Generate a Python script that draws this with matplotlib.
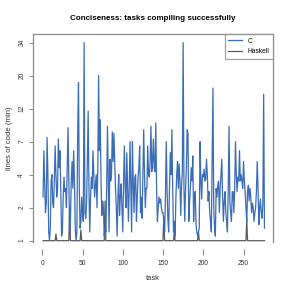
import numpy as np
import matplotlib
matplotlib.use("Agg")
import matplotlib.pyplot as plt

# ---- data ----
tick_values = [1, 2, 4, 7, 12, 20, 34]
tick_labels = ["1", "2", "4", "7", "12", "20", "34"]
x_ticks = [0, 50, 100, 150, 200, 250]

c_values = [
    2.5, 6, 3.5, 1.8, 2.2, 7.5, 4, 1.2, 1.0, 1.3,
    3.5, 4, 2.2, 2, 3.5, 6.5, 4, 2.5, 3, 7.3,
    4.5, 6, 3, 1.1, 1.2, 2.5, 3.8, 2.8, 3.0, 2.0,
    4.5, 8.8, 3.5, 1.2, 1.5, 3.5, 5, 3, 6, 3.5,
    1.3, 1.0, 1.2, 8, 18, 3, 1.3, 1.5, 2.5, 1.8,
    1.5, 34, 1.8, 1.6, 2.2, 5, 11.5, 3, 1.2, 2.5,
    3.8, 3, 6, 4, 2.5, 3.2, 4, 2, 4.5, 20,
    6, 10, 3.5, 1.7, 2.3, 2.0, 1.1, 1.3, 1.2, 3,
    9, 3.5, 1.2, 5.2, 3.5, 4, 8.2, 5, 8, 5,
    3, 2, 1.1, 2.5, 4, 1.7, 2.5, 3.3, 2, 1.2,
    3.5, 6.5, 3, 2, 5.8, 3, 1.5, 3, 7, 3,
    1.2, 7, 3.5, 1.8, 3.8, 4, 1.5, 2.5, 3.8, 4.5,
    6.5, 1.8, 2.5, 1.6, 4, 8.5, 4, 2, 3, 3,
    6.5, 4, 3.8, 5, 9, 4.2, 5, 7.3, 4.5, 4.2,
    9.5, 3, 1.5, 2, 2.5, 2.2, 2.4, 2, 1.8, 1.8,
    1.5, 1.2, 2.5, 7, 3, 1.6, 1.2, 3, 5.8, 4,
    8.5, 3, 1.2, 1.5, 1.1, 2.5, 4, 5, 3, 4.8,
    3.5, 1.7, 3.2, 4.2, 34, 3, 1.5, 3, 4.5, 8.5,
    8, 1.5, 2.3, 3, 4.5, 3.5, 5.5, 1.5, 2.5, 2.8,
    1.4, 1.2, 1.1, 1.2, 1.3, 7, 3.5, 2.4, 4, 3.8,
    4.4, 3.5, 3.6, 5.2, 4, 2.3, 2.8, 1.8, 1.5, 1.2,
    5, 16.5, 2, 1.3, 1.1, 3, 2.5, 3.2, 3.5, 1.8,
    3, 4, 5.2, 2.5, 1.5, 2.3, 2.8, 1.8, 1.5, 1.2,
    3, 9, 2.3, 1.8, 1.5, 2.8, 2.8, 1.8, 3, 7,
    4, 2.8, 3.8, 3.5, 6, 3.5, 4, 3.5, 3, 5,
    3.5, 2.8, 2, 1.5, 2.8, 3.2, 2.3, 3, 2.5, 1.8,
    2.2, 2, 1.5, 1.8, 2, 2.8, 5, 3, 1.4, 2,
    2.4, 1.8, 1.6, 2.2, 15, 1.3,
]
tasks = list(range(1, len(c_values) + 1))

haskell_values = [1.0] * len(c_values)
haskell_spikes = {17: 1.15, 34: 2.0, 48: 1.25, 78: 2.3, 151: 1.65, 164: 1.2, 194: 1.2, 254: 1.55}
for t, v in haskell_spikes.items():
    haskell_values[t - 1] = v

# ---- scale: ticks equally spaced on the axis ----
lt = np.log(np.array(tick_values, dtype=float))
idx = np.arange(len(tick_values), dtype=float)

def fwd(y):
    y = np.asarray(y, dtype=float)
    ly = np.log(np.clip(y, 1e-9, None))
    r = np.interp(ly, lt, idx)
    r = np.where(ly < lt[0], (ly - lt[0]) / (lt[1] - lt[0]), r)
    r = np.where(ly > lt[-1], idx[-1] + (ly - lt[-1]) / (lt[-1] - lt[-2]), r)
    return r

def inv(r):
    r = np.asarray(r, dtype=float)
    ly = np.interp(r, idx, lt)
    ly = np.where(r < 0, lt[0] + r * (lt[1] - lt[0]), ly)
    ly = np.where(r > idx[-1], lt[-1] + (r - idx[-1]) * (lt[-1] - lt[-2]), ly)
    return np.exp(ly)

W = H = 291
fig = plt.figure(figsize=(W / 100, H / 100), dpi=100)
plt.rcParams['font.family'] = ['Liberation Sans', 'DejaVu Sans']

L, R, T, B = 33, 273, 34, 242
ax = fig.add_axes([L / W, 1 - B / H, (R - L) / W, (B - T) / H])

blue = '#3a6cb8'
grey = '#5a5a5a'
axcol = '#8a8a8a'

ax.plot(tasks, haskell_values, color=grey, lw=0.9, label='Haskell', zorder=2)
ax.plot(tasks, c_values, color=blue, lw=0.9, label='C', zorder=3)

ax.set_yscale('function', functions=(fwd, inv))
ax.set_ylim(float(inv(-0.04)), float(inv(6.26)))
ax.set_xlim(-11.5, 286.6)

ax.set_yticks(tick_values)
ax.set_yticklabels(tick_labels)
ax.yaxis.set_minor_locator(matplotlib.ticker.NullLocator())
ax.set_xticks(x_ticks)

for s in ['top', 'right', 'left']:
    ax.spines[s].set_color(axcol)
    ax.spines[s].set_linewidth(0.9)
ax.spines['bottom'].set_position(('outward', 5))
ax.spines['bottom'].set_color('none')

ax.tick_params(axis='both', direction='out', width=0.8, color=axcol,
               labelsize=4.8, labelcolor='#333333')
ax.tick_params(axis='x', length=4.3, pad=4.0)
ax.tick_params(axis='y', length=3.0, pad=2.5)
for lab in ax.get_yticklabels():
    lab.set_rotation(90)
    lab.set_va('center')
    lab.set_ha('right')

ax.set_xlabel('task', fontsize=5.4, color='#333333')
ax.xaxis.set_label_coords(0.5, (B - 278) / (B - T))
ax.xaxis.label.set_va('center')
ax.set_ylabel('lines of code (min)', fontsize=5.6, color='#333333')
ax.yaxis.set_label_coords((10 - L) / (R - L), 0.5)
ax.yaxis.label.set_va('center')

fig.text((L + R) / 2 / W, 1 - 18.5 / H, 'Conciseness: tasks compiling successfully',
         ha='center', va='center', fontsize=5.8, fontweight='bold')

handles, labels = ax.get_legend_handles_labels()
order = [1, 0]
leg = ax.legend([handles[i] for i in order], [labels[i] for i in order],
                loc='upper right', fontsize=4.8, frameon=True, fancybox=False,
                borderaxespad=0, handlelength=2.0, handletextpad=0.9,
                borderpad=0.55, labelspacing=0.5)
leg.get_frame().set_edgecolor(axcol)
leg.get_frame().set_linewidth(0.9)

fig.savefig('out.png', dpi=100)
